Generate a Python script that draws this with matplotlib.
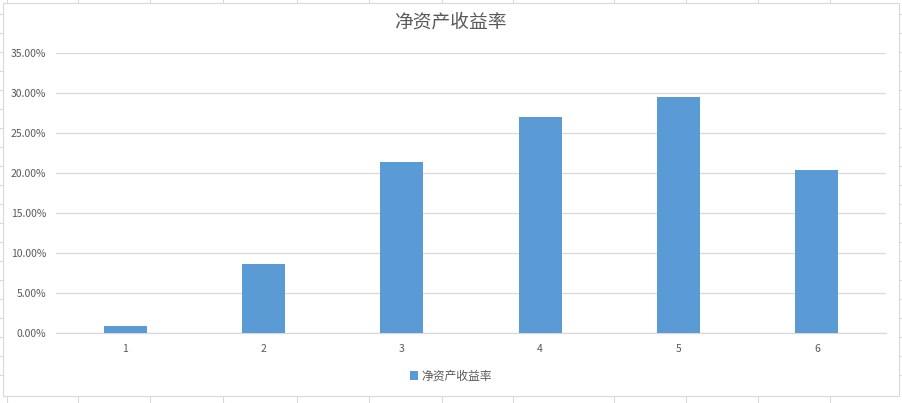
import matplotlib.pyplot as plt
from matplotlib.lines import Line2D
from matplotlib.patches import Rectangle
from matplotlib.ticker import PercentFormatter

plt.rcParams['font.family'] = ['Noto Sans CJK SC', 'DejaVu Sans']

# data
categories = ["1", "2", "3", "4", "5", "6"]
roe = [0.0088, 0.086, 0.214, 0.270, 0.2955, 0.204]
series_name = "净资产收益率"
title = "净资产收益率"

W, H = 902, 403
bar_color = "#5B9BD5"
grid_color = "#D9D9D9"
text_color = "#595959"


def fx(px):
    return px / W


def fy(py):
    return 1 - py / H


fig = plt.figure(figsize=(W / 100, H / 100), dpi=100)
fig.patch.set_facecolor("white")

# spreadsheet cells peeking out around the chart box
col_x = [7, 78, 150, 223, 297, 369, 442, 513, 614, 686, 758, 830]
for x in col_x:
    fig.add_artist(Line2D([fx(x), fx(x)], [fy(0), fy(3)], color=grid_color, lw=0.8, zorder=-2))
    fig.add_artist(Line2D([fx(x), fx(x)], [fy(396), fy(403)], color=grid_color, lw=0.8, zorder=-2))
for k in range(20):
    y = 14 + 19 * k
    fig.add_artist(Line2D([fx(0), fx(3)], [fy(y), fy(y)], color=grid_color, lw=0.8, zorder=-2))
    fig.add_artist(Line2D([fx(899), fx(902)], [fy(y), fy(y)], color=grid_color, lw=0.8, zorder=-2))

# chart box
fig.add_artist(Rectangle((fx(3), fy(396)), fx(896), (396 - 3) / H,
                         facecolor="white", edgecolor=grid_color, lw=0.8, zorder=-1))

ax = fig.add_axes([fx(56), fy(333), fx(830), 280 / H])
ax.set_facecolor("none")
x = range(len(categories))
ax.bar(x, roe, width=0.31, color=bar_color, zorder=3, label=series_name)

ax.set_xlim(-0.5, len(categories) - 0.5)
ax.set_ylim(0, 0.35)
ax.set_yticks([i * 0.05 for i in range(8)])
ax.yaxis.set_major_formatter(PercentFormatter(1.0, decimals=2))
ax.set_xticks(list(x))
ax.set_xticklabels(categories)
ax.grid(axis="y", color=grid_color, lw=0.9, zorder=0)
for side in ["top", "right", "left"]:
    ax.spines[side].set_visible(False)
ax.spines["bottom"].set_color(grid_color)
ax.spines["bottom"].set_linewidth(0.9)
ax.tick_params(axis="both", length=0, colors=text_color, labelsize=7.5)
ax.tick_params(axis="y", pad=7)
ax.tick_params(axis="x", pad=8)

fig.text(fx(450), fy(22), title, ha="center", va="center",
         fontsize=13.5, color=text_color)

fig.legend(loc="center", bbox_to_anchor=(fx(451), fy(376)), frameon=False,
           fontsize=8.5, labelcolor=text_color, handlelength=0.7,
           handleheight=0.7, handletextpad=0.3)

fig.savefig("out.png", dpi=100, facecolor="white")
